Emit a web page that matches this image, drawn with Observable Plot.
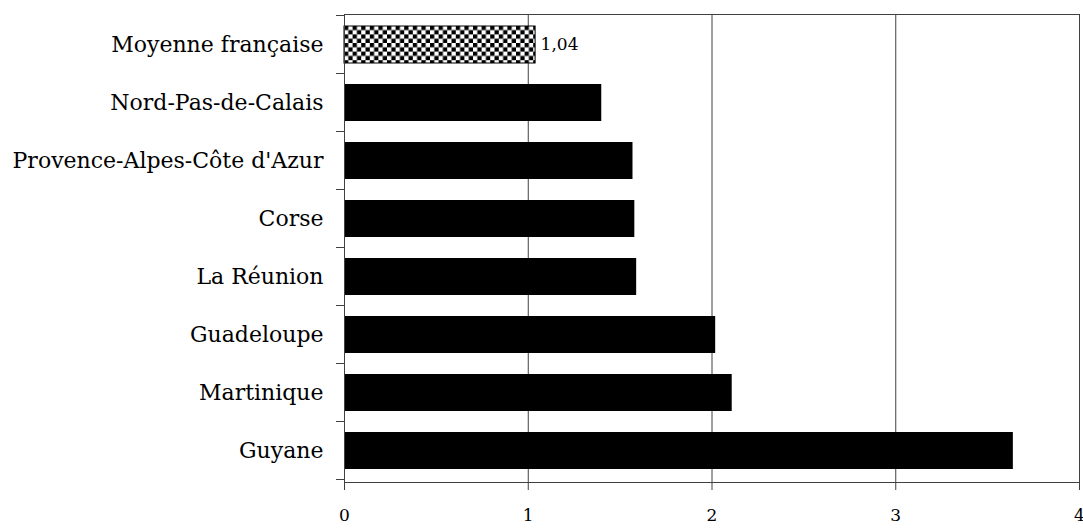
<!DOCTYPE html>
<html>
<head>
<meta charset="utf-8">
<script src="https://cdn.jsdelivr.net/npm/d3@7"></script>
<script src="https://cdn.jsdelivr.net/npm/@observablehq/plot@0.6"></script>
<style>
  html, body { margin: 0; padding: 0; background: #fff; }
  #chart svg { display: block; }
</style>
</head>
<body>
<div id="chart"></div>
<script>
// ---- data ----
const categories = [
  "Moyenne française",
  "Nord-Pas-de-Calais",
  "Provence-Alpes-Côte d'Azur",
  "Corse",
  "La Réunion",
  "Guadeloupe",
  "Martinique",
  "Guyane"
];
const values = [1.04, 1.40, 1.57, 1.58, 1.59, 2.02, 2.11, 3.64];
const highlighted = ["Moyenne française"];
const labelled = [{cat: "Moyenne française", value: 1.04, text: "1,04"}];
const xTicks = [0, 1, 2, 3, 4];
const gridTicks = [1, 2, 3];

const data = categories.map((c, i) => ({cat: c, value: values[i]}));

const FONT = "'DejaVu Serif', serif";
const LINE = "#404040";

// pattern defs
function checkerDefs() {
  const ns = "http://www.w3.org/2000/svg";
  const defs = document.createElementNS(ns, "defs");
  const p = document.createElementNS(ns, "pattern");
  p.setAttribute("id", "checker");
  p.setAttribute("patternUnits", "userSpaceOnUse");
  p.setAttribute("width", 8.6);
  p.setAttribute("height", 8.6);
  p.innerHTML = '<rect width="8.6" height="8.6" fill="#fff"/>' +
    '<rect width="4.3" height="4.3" fill="#000"/>' +
    '<rect x="4.3" y="4.3" width="4.3" height="4.3" fill="#000"/>';
  defs.appendChild(p);
  return defs;
}

// category boundary ticks on the left axis
function boundaryTicks(index, scales, values, dims) {
  const y = scales.y;
  const step = y.step(), bw = y.bandwidth();
  const half = (step - bw) / 2;
  const ys = categories.map(c => y(c) - half);
  ys.push(y(categories[categories.length - 1]) + bw + half);
  const g = d3.create("svg:g").attr("stroke", LINE).attr("stroke-width", 1);
  for (const yy of ys) {
    g.append("line")
      .attr("x1", dims.marginLeft - 8).attr("x2", dims.marginLeft)
      .attr("y1", yy).attr("y2", yy);
  }
  return g.node();
}

const plot = Plot.plot({
  width: 1083,
  height: 529,
  marginTop: 14,
  marginBottom: 47,
  marginLeft: 344,
  marginRight: 4,
  style: {fontFamily: FONT, background: "#fff", color: "#000"},
  x: {domain: [0, 4], label: null},
  y: {domain: categories, paddingInner: 0.355, paddingOuter: 0.1775, label: null},
  marks: [
    () => checkerDefs(),
    Plot.gridX(gridTicks, {stroke: LINE, strokeOpacity: 1, strokeWidth: 1}),
    Plot.frame({stroke: LINE, strokeWidth: 1}),
    Plot.barX(data.filter(d => !highlighted.includes(d.cat)), {x: "value", y: "cat", fill: "#000"}),
    Plot.barX(data.filter(d => highlighted.includes(d.cat)), {x: "value", y: "cat", fill: "url(#checker)", stroke: "#000", strokeWidth: 1}),
    Plot.text(labelled, {x: "value", y: "cat", text: "text", textAnchor: "start", dx: 5, fontSize: 17, fill: "#000"}),
    Plot.axisX({ticks: xTicks, tickSize: 8, tickPadding: 18, fontSize: 17, stroke: LINE, label: null, tickFormat: d => String(d)}),
    Plot.axisY({tickSize: 0, tickPadding: 21, fontSize: 22, label: null}),
    boundaryTicks,
    Plot.ruleX([0], {stroke: LINE, strokeWidth: 1})
  ]
});

document.getElementById("chart").appendChild(plot);
</script>
</body>
</html>
